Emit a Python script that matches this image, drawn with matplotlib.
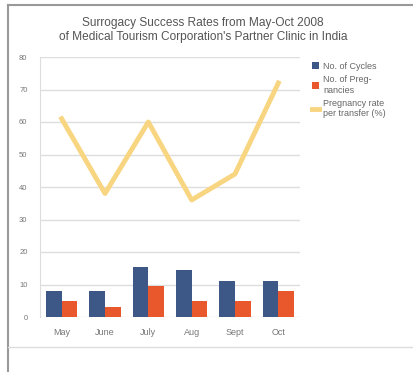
import matplotlib
matplotlib.use("Agg")
import matplotlib.pyplot as plt
from matplotlib.lines import Line2D
import numpy as np

plt.rcParams["font.family"] = ["Liberation Sans", "DejaVu Sans"]

months = ["May", "June", "July", "Aug", "Sept", "Oct"]
cycles = [8, 8, 15.5, 14.5, 11, 11]
pregnancies = [5, 3, 9.5, 5, 5, 8]
preg_rate = [61, 38, 60, 36, 44, 72]
yticks = [0, 10, 20, 30, 40, 50, 60, 70, 80]

W, H = 414, 372
fig = plt.figure(figsize=(W / 100, H / 100), dpi=100)
fig.patch.set_facecolor("white")

ax = fig.add_axes([40 / W, (H - 317) / H, 260 / W, 260 / H])
x = np.arange(len(months))
bw = 0.36
b1 = ax.bar(x - bw / 2, cycles, bw, color="#3D5886", label="No. of Cycles", zorder=3)
b2 = ax.bar(x + bw / 2, pregnancies, bw, color="#E8582C", label="No. of Preg-\nnancies", zorder=3)
l1, = ax.plot(x, preg_rate, color="#F8D580", lw=3.5, label="Pregnancy rate\nper transfer (%)", zorder=4)

ax.set_xlim(-0.5, 5.5)
ax.set_ylim(0, 80)
ax.set_yticks(yticks)
ax.set_xticks(x)
ax.set_xticklabels(months)
ax.tick_params(axis="y", labelsize=5.5, colors="#777777", length=0, pad=9)
ax.tick_params(axis="x", labelsize=6.5, colors="#777777", length=0, pad=8)
ax.grid(axis="y", color="#DDDDDD", lw=1, zorder=0)
for s in ["top", "right", "bottom"]:
    ax.spines[s].set_visible(False)
ax.spines["left"].set_color("#DDDDDD")

fig.text(203 / W, 1 - 30 / H,
         "Surrogacy Success Rates from May-Oct 2008\nof Medical Tourism Corporation's Partner Clinic in India",
         fontsize=8.6, color="#555555", ha="center", va="center", linespacing=1.3)

leg = ax.legend(handles=[b1, b2, l1], loc="upper left", bbox_to_anchor=(308 / W, 1 - 58 / H),
                bbox_transform=fig.transFigure,
                fontsize=6.5, frameon=False, handlelength=0.8, handleheight=0.8,
                labelcolor="#666666", borderaxespad=0, handletextpad=0.5, labelspacing=0.5)

# page frame lines
fig.add_artist(Line2D([8 / W, 8 / W], [0, 1 - 5 / H], color="#999999", lw=1.5))
fig.add_artist(Line2D([8 / W, 1], [1 - 5 / H, 1 - 5 / H], color="#999999", lw=1.5))
fig.add_artist(Line2D([8 / W, 1], [1 - 347 / H, 1 - 347 / H], color="#DDDDDD", lw=1))

fig.savefig("out.png", dpi=100)
